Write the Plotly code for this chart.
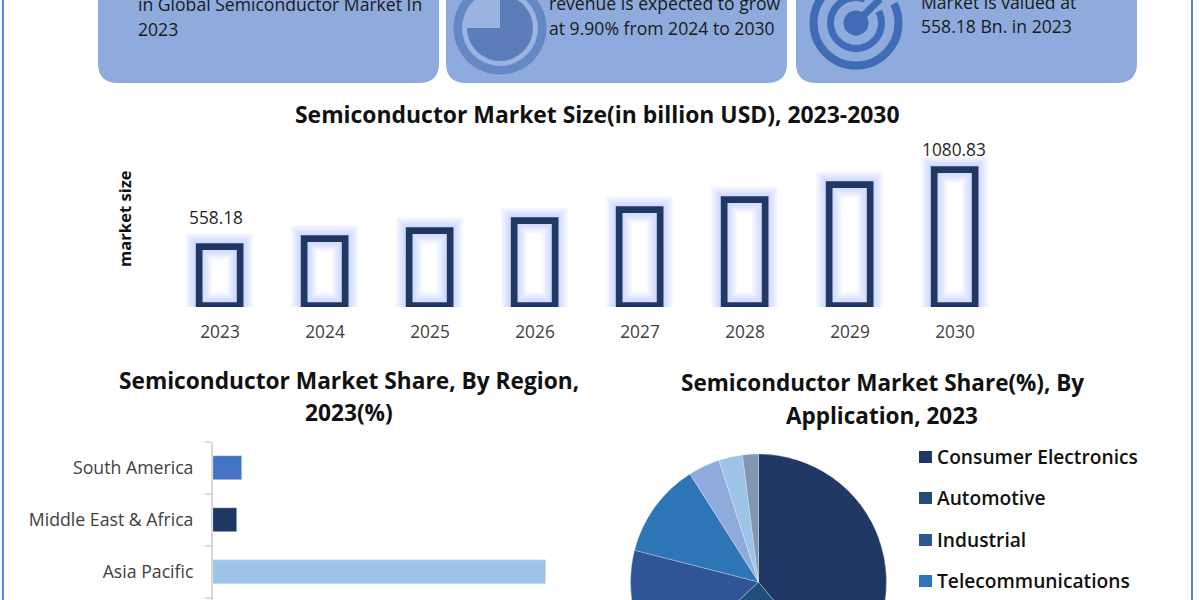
import math
import plotly.graph_objects as go

# ---- data ----
years = ["2023", "2024", "2025", "2026", "2027", "2028", "2029", "2030"]
market_size = [558.18, 613, 668, 737, 806, 881, 977, 1080.83]
size_base = 152.5

regions = ["Asia Pacific", "Middle East & Africa", "South America"]
region_share = [55, 4, 4.8]
region_colors = ["#9DC3E6", "#1F3864", "#4472C4"]

applications = ["Consumer Electronics", "Automotive", "Industrial", "Telecommunications",
                "Segment 5", "Segment 6", "Segment 7"]
application_share = [39, 24, 16, 12, 4, 3, 2]
application_colors = ["#1F3864", "#1F4E79", "#2F5597", "#2E75B6", "#8FAADC", "#9DC3E6", "#8497B0"]

W, H = 1200, 760   # the page shows the top 600 px; the pie runs on below the fold
FONT = "Open Sans"
CARD = "#8FAADC"


def px(x):
    return x / W


def py(y):
    return 1 - y / H


def rounded_bottom(x0, x1, y0, y1, r):
    return (f"M {px(x0)} {py(y0)} L {px(x1)} {py(y0)} L {px(x1)} {py(y1 - r)} "
            f"Q {px(x1)} {py(y1)} {px(x1 - r)} {py(y1)} L {px(x0 + r)} {py(y1)} "
            f"Q {px(x0)} {py(y1)} {px(x0)} {py(y1 - r)} Z")


shapes = []
annotations = []


def circle(cx, cy, r, fill, line=None, lw=0):
    shapes.append(dict(type="circle", xref="paper", yref="paper", x0=px(cx - r), x1=px(cx + r),
                       y0=py(cy + r), y1=py(cy - r), fillcolor=fill,
                       line=dict(color=line or "rgba(0,0,0,0)", width=lw)))


def poly(points, fill):
    d = "M " + " L ".join(f"{px(a)} {py(b)}" for a, b in points) + " Z"
    shapes.append(dict(type="path", xref="paper", yref="paper", path=d, fillcolor=fill,
                       line=dict(width=0)))


def text(x, y, s, size, color="#1a1a1a", weight=400, anchor="left", angle=0):
    annotations.append(dict(xref="paper", yref="paper", x=px(x), y=py(y), text=s, showarrow=False,
                            xanchor=anchor, yanchor="middle", textangle=angle,
                            font=dict(family=FONT, size=size, color=color, weight=weight)))


# page frame
for fx in (3, 1192):
    shapes.append(dict(type="line", xref="paper", yref="paper", x0=px(fx), x1=px(fx), y0=0, y1=1,
                       line=dict(color="#5B83D6", width=2)))

# info cards
for x0, x1 in ((98, 439), (446, 787), (796, 1137)):
    shapes.append(dict(type="path", xref="paper", yref="paper", fillcolor=CARD, line=dict(width=0),
                       path=rounded_bottom(x0, x1, -30, 83, 20)))

# clock icon
LIGHT = "#9AB3E0"
circle(500, 28, 46.5, "#6488C4")
circle(500, 28, 38, LIGHT)
circle(500, 28, 33, "#5C7DB7")
quarter = [(500, 28)] + [(500 - 33.6 * math.cos(math.radians(a)), 28 - 33.6 * math.sin(math.radians(a)))
                         for a in range(0, 91, 5)]
poly(quarter, LIGHT)

# target icon
RING = "#3F6CB4"
circle(856, 23, 42.5, "rgba(0,0,0,0)", RING, 8)
circle(856, 23, 25.5, "rgba(0,0,0,0)", RING, 7)
poly([(856, 23), (905, -2), (905, -40), (880, -40)], CARD)
circle(856, 23, 12.5, RING)
shapes.append(dict(type="line", xref="paper", yref="paper", x0=px(856), y0=py(23), x1=px(880),
                   y1=py(-1), line=dict(color=RING, width=7)))

# card text
text(136, 4, "in Global Semiconductor Market In", 17.6)
text(136, 29, "2023", 17.6)
text(547, 3, "revenue is expected to grow", 17.6)
text(547, 28, "at 9.90% from 2024 to 2030", 17.6)
text(919, 2, "Market is valued at", 17.6)
text(919, 26, "558.18 Bn. in 2023", 17.6)

# titles
text(597, 114, "Semiconductor Market Size(in billion USD), 2023-2030", 22.9, "#111111", 700, "center")
text(349, 380, "Semiconductor Market Share, By Region,", 22.7, "#111111", 700, "center")
text(349, 412, "2023(%)", 22.7, "#111111", 700, "center")
text(882, 383, "Semiconductor Market Share(%), By", 22.5, "#111111", 700, "center")
text(882, 415, "Application, 2023", 22.5, "#111111", 700, "center")
text(124, 219, "market size", 16.6, "#111111", 700, "center", -90)

# pie legend, spaced as in the reference
for i, ly in enumerate((457, 498, 540, 581)):
    shapes.append(dict(type="rect", xref="paper", yref="paper", x0=px(919), x1=px(932),
                       y0=py(ly + 6), y1=py(ly - 6), fillcolor=application_colors[i],
                       line=dict(width=0)))
    text(935, ly - 1, applications[i], 19.2, "#111111", 600)

fig = go.Figure()

# market size bars: soft glow layers, then the dark outline
for w in (27, 25, 23, 21, 19, 17, 15, 13, 11, 9):
    fig.add_trace(go.Bar(x=years, y=[v - size_base for v in market_size], base=size_base, width=0.396,
                         marker=dict(color="rgba(0,0,0,0)",
                                     line=dict(color="rgba(120,165,250,0.04)", width=w)),
                         hoverinfo="skip", showlegend=False, xaxis="x", yaxis="y"))
fig.add_trace(go.Bar(x=years, y=[v - size_base for v in market_size], base=size_base, width=0.396,
                     marker=dict(color="rgba(0,0,0,0)", line=dict(color="#1F3864", width=6.7)),
                     showlegend=False, xaxis="x", yaxis="y"))

for idx, xs, ys in ((0, -4, 29), (len(years) - 1, -1.5, 21)):
    annotations.append(dict(xref="x", yref="y", x=idx, y=market_size[idx],
                            text=f"{market_size[idx]:.2f}", showarrow=False, xshift=xs, yshift=ys,
                            font=dict(family=FONT, size=17.3, color="#262626")))

# regional bars
fig.add_trace(go.Bar(y=regions, x=region_share, orientation="h", width=0.47,
                     marker=dict(color=region_colors), showlegend=False, xaxis="x2", yaxis="y2"))

# application pie
fig.add_trace(go.Pie(labels=applications, values=application_share, sort=False, direction="clockwise",
                     rotation=0, textinfo="none", showlegend=False,
                     marker=dict(colors=application_colors,
                                 line=dict(color="rgba(255,255,255,0.45)", width=0.6)),
                     domain=dict(x=[px(630), px(887)], y=[py(710), py(454)])))

fig.update_layout(
    width=W, height=H, autosize=False, margin=dict(l=0, r=0, t=0, b=0),
    paper_bgcolor="white", plot_bgcolor="rgba(0,0,0,0)", barmode="overlay", bargap=0,
    shapes=[dict(s, layer="below") for s in shapes], annotations=annotations,
    font=dict(family=FONT),
    xaxis=dict(domain=[px(167.5), px(1007.5)], anchor="y", type="category", categoryorder="array",
               categoryarray=years, range=[-0.5, 7.5], showgrid=False, zeroline=False, showline=False,
               ticks="", ticklabelstandoff=13, tickfont=dict(family=FONT, size=17.3, color="#404040")),
    yaxis=dict(domain=[py(307), py(150)], anchor="x", range=[145.7, 1219.6], visible=False),
    xaxis2=dict(domain=[px(213), px(576)], anchor="y2", range=[0, 60], visible=False),
    yaxis2=dict(domain=[py(600), py(442)], anchor="x2", type="category", categoryorder="array",
                categoryarray=regions, range=[-0.538, 2.5], showgrid=False, zeroline=False,
                showline=True, linecolor="#D9D9D9", linewidth=2, ticks="outside", ticklen=6,
                tickwidth=1.5, tickcolor="#D9D9D9", tickson="boundaries", ticklabelstandoff=14,
                tickfont=dict(family=FONT, size=17.7, color="#404040")),
)

fig.write_html("out.html", config=dict(displayModeBar=False),
               post_script="document.body.style.margin='0';document.documentElement.style.overflow='hidden';document.body.style.overflow='hidden';")
